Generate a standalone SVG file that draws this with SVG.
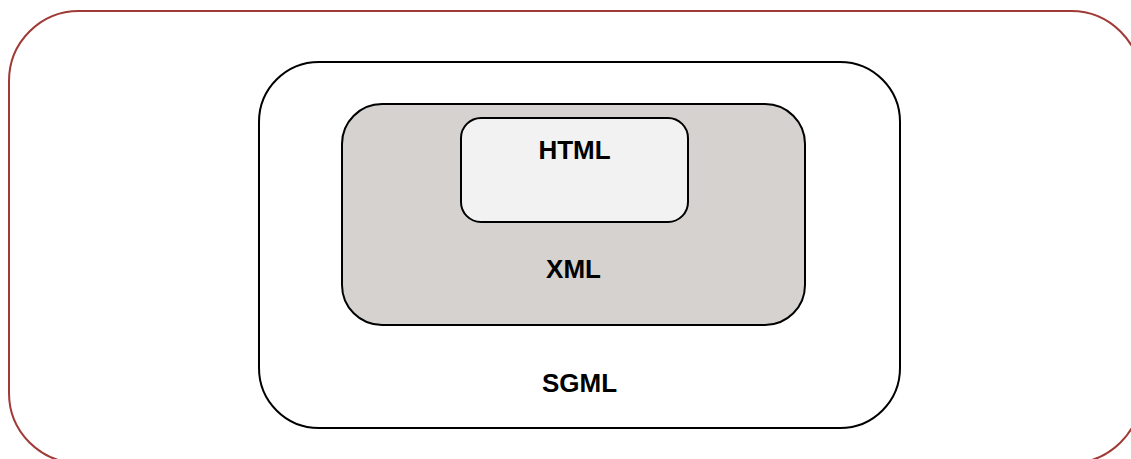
<svg xmlns="http://www.w3.org/2000/svg" width="1131" height="459" viewBox="0 0 1131 459">
  <style>
    .box { stroke: #000; stroke-width: 2; }
    .label { font-family: "Liberation Sans", Arial, sans-serif; font-weight: bold; font-size: 26px; fill: #000; text-anchor: middle; }
  </style>
  <rect x="0" y="0" width="1131" height="459" fill="#fff"/>
  <!-- outer frame -->
  <g id="frame">
    <rect x="9" y="11" width="1132" height="452" rx="70" ry="70" fill="none" stroke="#A03A36" stroke-width="2"/>
  </g>
  <g id="sgml">
    <rect class="box" x="259" y="62" width="641" height="366" rx="60" ry="60" fill="#fff"/>
    <text class="label" x="579.5" y="392">SGML</text>
  </g>
  <g id="xml">
    <rect class="box" x="342" y="104" width="463" height="221" rx="40" ry="40" fill="#D6D2CF"/>
    <text class="label" x="573.5" y="278">XML</text>
  </g>
  <g id="html">
    <rect class="box" x="461" y="118" width="227" height="104" rx="20" ry="20" fill="#F2F2F2"/>
    <text class="label" x="574.5" y="159">HTML</text>
  </g>
  <g id="connectors"/>
</svg>
